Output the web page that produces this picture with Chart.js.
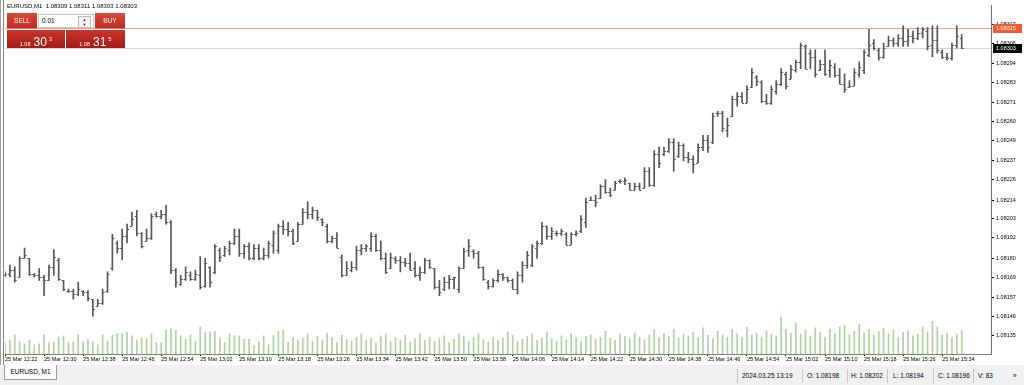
<!DOCTYPE html>
<html lang="en">
<head>
  <meta charset="UTF-8" />
  <title>EURUSD,M1</title>
  <script src="https://cdn.jsdelivr.net/npm/chart.js"></script>
  <style>
    body {
      margin: 0;
      width: 1024px;
      height: 385px;
      background: #f0f0f0;
      font-family: "Liberation Sans", Arial, sans-serif;
      position: relative;
      overflow: hidden;
    }
    #win {
      position: absolute;
      left: 0; top: 0;
      width: 1024px; height: 365px;
      background: #fff;
    }
    #win canvas { position: absolute; left: 0; top: 0; }
    .frame-l {
      position: absolute; left: 0; top: 0; width: 2px; height: 365px;
      border-left: 1px solid #a0a0a0; border-right: 1px solid #808080;
    }
    #head {
      position: absolute; left: 7px; top: 3px;
      font-size: 6px; color: #000; white-space: pre;
    }
    .red {
      position: absolute; color: #fff; text-align: center;
      background: linear-gradient(#d8493d, #c02a21);
    }
    .btn { top: 13px; height: 16px; font-size: 6.5px; line-height: 15px; border-bottom: 1px solid #e07a70; box-sizing: border-box; }
    .price {
      top: 30px; height: 18px;
      background: linear-gradient(#c8352c, #a51b15);
      line-height: 18px; white-space: nowrap;
    }
    .price .s { font-size: 5.5px; }
    .price .b { font-size: 12px; margin-left: 3px; }
    .price .p { font-size: 6px; vertical-align: 5px; margin-left: 2px; }
    #lot {
      position: absolute; left: 38px; top: 14px; width: 56px; height: 14px;
      background: #fff; border: 1px solid #c8c8c8; box-sizing: border-box;
      font-size: 6.5px; line-height: 12px; padding-left: 3px;
    }
    #spin {
      position: absolute; right: 2px; top: 1px; width: 11px; height: 10px;
      border: 1px solid #bbb; background: #f2f2f2; font-size: 4px; line-height: 5px; text-align: center; color: #333;
    }
    #tab {
      position: absolute; left: 4px; top: 365px; width: 51px; height: 14px;
      background: #fff; border: 1px solid #999; border-top: none;
      font-size: 6.5px; line-height: 13px; text-align: center;
    }
    .st { position: absolute; top: 372px; font-size: 6.5px; color: #000; white-space: nowrap; }
    .sep { position: absolute; top: 369px; width: 1px; height: 14px; background: #c8c8c8; }
  </style>
</head>
<body>

<div id="win">
  <canvas id="chartCanvas" width="1024" height="365"></canvas>
  <div class="frame-l"></div>
  <div id="head">EURUSD,M1  1.08309 1.08311 1.08303 1.08303</div>

  <div class="red btn" style="left:7px; width:30px;">SELL</div>
  <div id="lot">0.01<div id="spin">▲<br>▼</div></div>
  <div class="red btn" style="left:95px; width:30px;">BUY</div>
  <div class="red price" style="left:7px; width:58px;"><span class="s">1.08</span><span class="b">30</span><span class="p">3</span></div>
  <div class="red price" style="left:66px; width:59px;"><span class="s">1.08</span><span class="b">31</span><span class="p">5</span></div>
</div>

<div id="tab">EURUSD, M1</div>
<div class="sep" style="left:737px"></div>
<div class="st" style="left:742px">2024.03.25 13:19</div>
<div class="sep" style="left:802px"></div>
<div class="st" style="left:807px">O: 1.08198</div>
<div class="sep" style="left:847px"></div>
<div class="st" style="left:851px">H: 1.08202</div>
<div class="sep" style="left:887px"></div>
<div class="st" style="left:893px">L: 1.08194</div>
<div class="sep" style="left:933px"></div>
<div class="st" style="left:938px">C: 1.08196</div>
<div class="sep" style="left:973px"></div>
<div class="st" style="left:978px">V: 83</div>
<div class="st" style="left:1013px">»</div>

<script>
  // prices are in points above 1.08000 (e.g. 170 -> 1.08170)
  const priceBase = 1.08;
  const point = 0.00001;

  const opens = [
    170,171,173,169,180,180,171,170,169,167, 175,179,167,161,161,159,161,160,156,152,
    154,161,174,189,186,193,199,205,195,190, 192,206,205,206,201,173,165,168,170,168,
    170,164,175,172,185,182,185,189,193,183, 187,180,186,180,182,188,185,199,197,196,
    190,200,207,206,208,203,199,190,192,181, 170,173,175,185,186,186,193,185,180,174,
    180,179,178,177,174,170,172,179,174,163, 162,166,168,162,174,185,184,183,175,166,
    164,167,171,169,167,162,170,176,176,186, 189,199,193,195,195,194,188,194,196,201,
    214,214,215,222,219,220,225,225,224,220, 222,221,231,223,241,241,243,248,240,246,
    239,238,236,245,249,248,265,265,255,263, 273,275,271,280,286,283,272,271,278,282,
    288,285,290,295,304,300,298,290,294,290, 292,287,282,280,281,288,290,299,306,302,
    298,304,308,306,309,307,310,309,312,313, 305,308,301,298,297,305,309
  ];
  const highs = [
    172,176,175,181,186,180,171,174,170,176, 185,180,167,162,162,166,161,161,156,156,
    162,172,194,190,197,200,207,208,195,197, 206,207,208,211,202,174,170,175,172,173,
    181,180,175,188,186,187,190,197,197,188, 189,188,188,186,190,196,200,202,201,197,
    201,209,213,210,208,203,200,193,195,182, 178,178,187,188,188,195,194,190,183,183,
    181,181,180,183,178,175,180,179,174,167, 169,170,169,175,186,191,185,184,175,167,
    168,173,171,169,168,172,178,184,188,190, 201,199,198,196,197,195,195,196,205,215,
    216,217,223,226,221,225,226,227,224,224, 224,233,233,243,245,245,250,250,248,247,
    242,240,247,252,252,265,266,266,262,275, 277,277,281,291,287,284,276,281,284,291,
    289,293,296,306,305,302,302,296,302,296, 294,291,288,284,291,295,302,314,308,303,
    306,310,309,311,316,314,313,315,315,315, 316,316,302,300,306,316,311
  ];
  const lows = [
    169,169,166,169,180,170,169,167,158,167, 170,167,161,160,156,158,158,155,146,152,
    153,160,173,183,179,189,199,193,186,190, 191,204,203,200,171,163,164,167,167,167,
    162,163,163,171,178,181,182,188,181,180, 179,179,179,179,180,183,183,194,193,188,
    190,200,203,203,202,199,189,189,186,169, 170,172,173,182,184,184,184,179,171,174,
    177,172,175,173,169,167,171,174,162,158, 161,162,162,160,174,181,180,174,167,162,
    163,166,167,166,162,159,166,174,175,180, 188,191,191,193,193,188,188,193,195,198,
    214,210,215,218,216,220,224,223,220,220, 220,221,222,222,233,240,242,231,239,237,
    236,230,236,243,242,247,263,254,251,263, 269,271,271,280,281,271,270,270,276,281,
    279,285,289,291,291,291,286,290,287,286, 286,282,277,280,281,286,288,298,302,296,
    297,304,304,304,304,304,306,308,309,302, 298,300,297,296,296,303,303
  ];
  const closes = [
    171,173,167,180,182,171,170,169,167,175, 181,168,162,161,159,162,160,157,150,154,
    160,171,192,186,193,197,203,195,187,192, 205,205,206,201,173,166,168,172,168,171,
    163,177,166,187,181,186,189,193,183,187, 180,186,180,182,189,195,199,197,196,189,
    200,207,206,208,204,201,190,192,186,170, 174,175,185,186,187,193,185,180,172,181,
    179,178,177,173,170,172,179,175,163,160, 166,168,169,174,184,187,183,175,168,164,
    167,171,169,167,162,170,176,182,187,189, 199,193,196,195,196,188,194,195,203,213,
    214,213,222,219,217,224,225,226,220,222, 220,231,223,241,236,243,248,238,246,239,
    238,235,245,249,245,263,265,256,258,273, 275,271,279,289,284,272,271,279,282,289,
    281,291,295,305,291,298,288,294,288,293, 287,282,279,281,289,292,301,305,303,298,
    303,308,306,309,307,310,309,312,314,304, 308,302,298,297,305,310,303
  ];
  const volumes = [
    40,48,68,42,36,48,32,36,68,40, 42,60,64,40,44,68,42,52,42,32,
    68,46,66,72,72,76,64,48,56,54, 72,40,40,84,90,84,64,52,68,44,
    96,76,78,80,56,40,72,64,64,52, 52,30,44,64,32,66,80,84,40,60,
    48,56,70,44,62,50,74,58,40,66, 52,46,60,72,48,56,38,64,70,44,
    58,50,66,42,54,72,48,60,44,56, 64,40,52,70,62,46,58,74,50,42,
    60,48,56,78,66,44,52,62,70,48, 58,76,54,46,64,50,72,58,44,62,
    68,52,60,80,56,48,70,62,54,74, 60,50,66,84,58,72,62,88,56,70,
    64,76,58,92,66,54,80,68,60,86, 72,58,94,66,74,60,82,70,64,130,
    88,74,110,70,84,64,92,76,60,88, 72,96,100,68,80,105,74,86,66,78,
    90,72,84,60,76,82,64,70,96,78, 115,95,66,74,58,70,83
  ];

  const yTickLabels = [
    '1.08135','1.08146','1.08157','1.08169','1.08180','1.08192','1.08203','1.08214','1.08226',
    '1.08237','1.08249','1.08260','1.08271','1.08283','1.08294','1.08306','1.08317'
  ];
  const xTickLabels = [
    '25 Mar 12:22','25 Mar 12:30','25 Mar 12:38','25 Mar 12:46','25 Mar 12:54','25 Mar 13:02',
    '25 Mar 13:10','25 Mar 13:18','25 Mar 13:26','25 Mar 13:34','25 Mar 13:42','25 Mar 13:50',
    '25 Mar 13:58','25 Mar 14:06','25 Mar 14:14','25 Mar 14:22','25 Mar 14:30','25 Mar 14:38',
    '25 Mar 14:46','25 Mar 14:54','25 Mar 15:02','25 Mar 15:10','25 Mar 15:18','25 Mar 15:26',
    '25 Mar 15:34'
  ];
  const bidPrice = 1.08303;
  const askPrice = 1.08315;

  // one slot per minute, with a few empty slots after the last bar (chart shift)
  const slotCount = 203;
  const startMinute = 12 * 60 + 22;
  const labels = [];
  for (let i = 0; i < slotCount; i++) {
    const m = startMinute + i;
    labels.push(String(Math.floor(m / 60)).padStart(2, '0') + ':' + String(m % 60).padStart(2, '0'));
  }

  const toPrice = p => +(priceBase + p * point).toFixed(5);
  const barColor = '#555555';

  const ohlcTicks = {
    id: 'ohlcTicks',
    afterDatasetsDraw(chart) {
      const meta = chart.getDatasetMeta(0);
      const y = chart.scales.y;
      const ctx = chart.ctx;
      ctx.save();
      ctx.strokeStyle = barColor;
      ctx.lineWidth = 1;
      ctx.beginPath();
      meta.data.forEach((el, i) => {
        const x = el.x;
        const yo = Math.round(y.getPixelForValue(toPrice(opens[i]))) + 0.5;
        const yc = Math.round(y.getPixelForValue(toPrice(closes[i]))) + 0.5;
        ctx.moveTo(x - 2, yo); ctx.lineTo(x, yo);
        ctx.moveTo(x, yc); ctx.lineTo(x + 2, yc);
      });
      ctx.stroke();
      ctx.restore();
    }
  };

  const priceLines = {
    id: 'priceLines',
    beforeDatasetsDraw(chart) {
      const { ctx, chartArea } = chart;
      const y = chart.scales.y;
      ctx.save();
      ctx.lineWidth = 1;
      [[askPrice, '#f4a38e'], [bidPrice, '#d4d4d4']].forEach(([p, c]) => {
        const py = Math.round(y.getPixelForValue(p)) + 0.5;
        ctx.strokeStyle = c;
        ctx.beginPath();
        ctx.moveTo(chartArea.left, py);
        ctx.lineTo(chartArea.right, py);
        ctx.stroke();
      });
      ctx.restore();
    },
    afterDraw(chart) {
      const { ctx, chartArea } = chart;
      const y = chart.scales.y;
      ctx.save();
      ctx.font = '5.5px "Liberation Sans", Arial, sans-serif';
      ctx.textBaseline = 'middle';
      [[askPrice, '#f25c2e'], [bidPrice, '#000000']].forEach(([p, c]) => {
        const py = Math.round(y.getPixelForValue(p));
        ctx.fillStyle = c;
        ctx.fillRect(chartArea.right + 2, py - 4, 29, 9);
        ctx.fillStyle = '#fff';
        ctx.fillText(p.toFixed(5), chartArea.right + 5, py + 0.5);
      });
      ctx.restore();
    }
  };

  const ctx = document.getElementById('chartCanvas').getContext('2d');
  const chart = new Chart(ctx, {
    type: 'bar',
    data: {
      labels,
      datasets: [
        {
          label: 'EURUSD',
          data: highs.map((h, i) => [toPrice(lows[i]), toPrice(h)]),
          backgroundColor: barColor,
          barThickness: 1,
          grouped: false,
          order: 1,
          yAxisID: 'y'
        },
        {
          label: 'Volume',
          data: volumes,
          backgroundColor: '#add3a0',
          barThickness: 1,
          grouped: false,
          order: 2,
          yAxisID: 'yv'
        }
      ]
    },
    options: {
      responsive: false,
      animation: false,
      layout: { padding: { left: 5, top: 4, right: 0, bottom: 0 } },
      plugins: { legend: { display: false }, tooltip: { enabled: false } },
      scales: {
        x: {
          offset: false,
          grid: { display: true, drawOnChartArea: false, offset: false, tickLength: 2, color: '#000' },
          border: { display: true, color: '#808080' },
          afterBuildTicks: s => {
            s.ticks = s.ticks.filter(t => t.value % 8 === 0 && t.value / 8 < xTickLabels.length);
          },
          afterFit: s => { s.height = 11; },
          ticks: {
            autoSkip: false,
            maxRotation: 0,
            minRotation: 0,
            align: 'start',
            padding: 0,
            color: '#000',
            font: { size: 5.5, family: '"Liberation Sans", Arial, sans-serif' },
            callback: v => xTickLabels[v / 8]
          }
        },
        y: {
          position: 'right',
          min: 1.0812392,
          max: 1.0832808,
          grid: { display: true, drawOnChartArea: false, tickLength: 3, color: '#000' },
          border: { display: true, color: '#707070' },
          afterBuildTicks: s => {
            s.ticks = yTickLabels.map(v => ({ value: parseFloat(v) }));
          },
          afterFit: s => { s.width = 33; },
          ticks: {
            padding: 2,
            color: '#000',
            font: { size: 5.5, family: '"Liberation Sans", Arial, sans-serif' },
            callback: v => v.toFixed(5)
          }
        },
        yv: {
          display: false,
          min: 0,
          max: 1230
        }
      }
    },
    plugins: [priceLines, ohlcTicks]
  });
</script>

</body>
</html>
